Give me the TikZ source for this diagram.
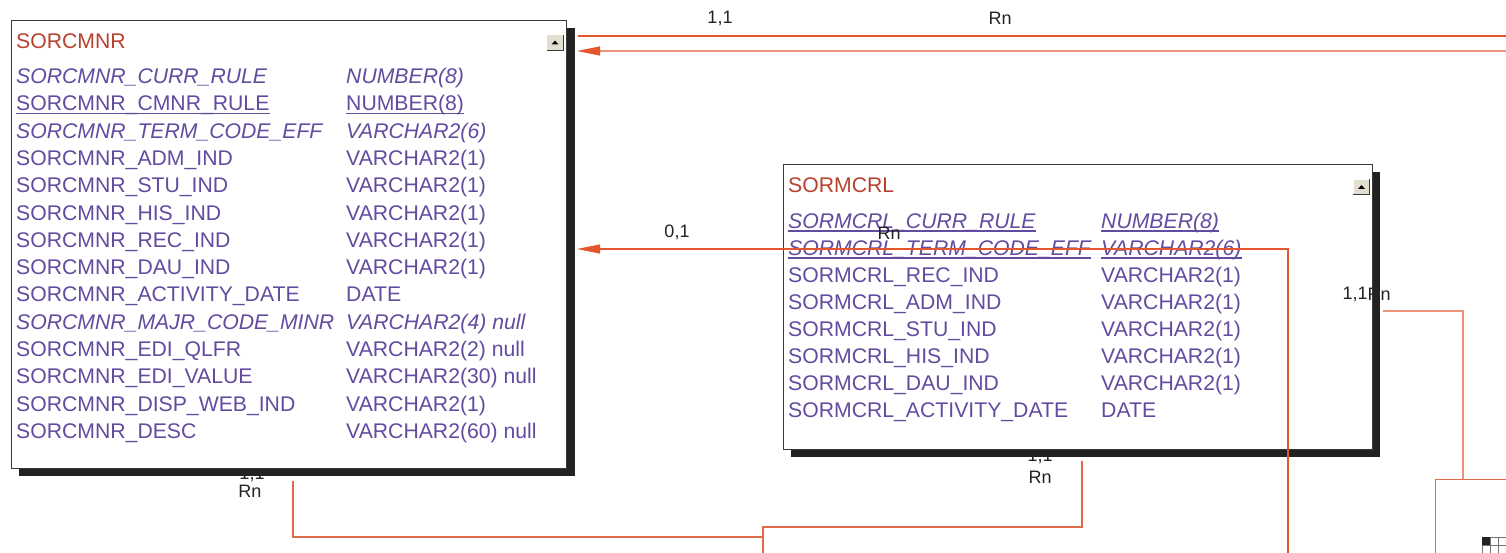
\documentclass[tikz,border=0pt]{standalone}
\usepackage{fontspec}
\setmainfont{Liberation Sans}
\usetikzlibrary{arrows.meta}
\definecolor{fk}{HTML}{E4572E}
\definecolor{fklight}{HTML}{EC9478}
\definecolor{fkmid}{HTML}{DE6C4C}
\definecolor{fld}{HTML}{634BA0}
\definecolor{ttlc}{HTML}{B9412D}
\definecolor{lblc}{HTML}{222222}
\definecolor{shd}{HTML}{222222}
\definecolor{bord}{HTML}{3A3A3A}
\definecolor{iconbg}{HTML}{E2DED2}
\begin{document}
\begin{tikzpicture}[x=1pt,y=-1pt,
  lbl/.style={font=\fontsize{18}{20}\selectfont, text=lblc, inner sep=0},
  fieldname/.style={anchor=base west, inner sep=0, font=\fontsize{21.2}{25}\selectfont, text=fld},
  pl/.style={},
  it/.style={font=\fontsize{21.2}{25}\selectfont\itshape},
  ttl/.style={fieldname, text=ttlc},
  tbl/.style={draw=bord, fill=white, line width=0.9pt, anchor=north west, inner sep=0},
  tshadow/.style={fill=shd, draw=none},
  relA/.style={draw=fk, line width=1.1pt},
  relB/.style={draw=fklight, line width=1.1pt},
  relC/.style={draw=fkmid, line width=1.1pt},
  ulined/.style={draw=fld, line width=1.3pt},
  tip/.style={-{Triangle[length=23pt,width=9pt,color=fk]}},
  icon/.style={fill=iconbg, draw=none, minimum width=16pt, minimum height=15pt, inner sep=0}
]
\useasboundingbox (0,0) rectangle (1506,553);
\fill[white] (0,0) rectangle (1506,553);

% labels partly under shadows
\node[lbl] (m5) at (252,474) {1,1};
\node[lbl] (m6) at (250,491) {Rn};
\node[lbl] (m7) at (1040,456) {1,1};
\node[lbl] (m8) at (1040,477) {Rn};

% connector end points
\coordinate (r1a) at (578,36);  \coordinate (r1b) at (1506,36);
\coordinate (r2a) at (1506,51); \coordinate (r2b) at (577,51);
\coordinate (r4a) at (293,481); \coordinate (r4b) at (293,537); \coordinate (r4c) at (763,537);
\coordinate (r5a) at (1082,461); \coordinate (r5b) at (1082,527); \coordinate (r5c) at (763,527); \coordinate (r5d) at (763,553);
\coordinate (r6a) at (1383,311); \coordinate (r6b) at (1463,311); \coordinate (r6c) at (1463,479);

\draw[relA] (r1a) -- (r1b);
\draw[relB, tip] (r2a) -- (r2b);
\draw[relC] (r4a) -- (r4b) -- (r4c);
\draw[relC] (r5a) -- (r5b) -- (r5c) -- (r5d);
\draw[relB] (r6a) -- (r6b) -- (r6c);

% partial third table
\node[tbl, draw=fkmid, minimum width=120pt, minimum height=100pt] (t3) at (1435,479) {};
\foreach \cx in {0,1,2} {
  \draw[draw=bord!70, line width=0.6pt] (1482+8*\cx,537) rectangle ++(8,8);
  \draw[draw=bord!70, line width=0.6pt] (1482+8*\cx,545) rectangle ++(8,8);
}
\fill[shd] (1482,537) rectangle (1490,545);

% ---------- table SORCMNR ----------
\fill[tshadow] (19,28) rectangle (575,476);
\node[tbl, minimum width=555pt, minimum height=448pt] (t1) at (11,20) {};
\node[ttl] (t1title) at (16,48.5) {SORCMNR};
\node[icon] (ic1) at (555,42.5) {};
\draw[white, line width=0.8pt] (ic1.south west) -- (ic1.north west) -- (ic1.north east);
\draw[bord, line width=1pt] (ic1.north east) -- (ic1.south east) -- (ic1.south west);
\fill[black] ([xshift=-3.5pt,yshift=-2pt]ic1.center) -- ++(7,0) -- ++(-3.5,-4) -- cycle;

\foreach [count=\i] \n/\t/\s in {
  SORCMNR\_CURR\_RULE/NUMBER(8)/it,
  SORCMNR\_CMNR\_RULE/NUMBER(8)/pl,
  SORCMNR\_TERM\_CODE\_EFF/VARCHAR2(6)/it,
  SORCMNR\_ADM\_IND/VARCHAR2(1)/pl,
  SORCMNR\_STU\_IND/VARCHAR2(1)/pl,
  SORCMNR\_HIS\_IND/VARCHAR2(1)/pl,
  SORCMNR\_REC\_IND/VARCHAR2(1)/pl,
  SORCMNR\_DAU\_IND/VARCHAR2(1)/pl,
  SORCMNR\_ACTIVITY\_DATE/DATE/pl,
  SORCMNR\_MAJR\_CODE\_MINR/VARCHAR2(4) null/it,
  SORCMNR\_EDI\_QLFR/VARCHAR2(2) null/pl,
  SORCMNR\_EDI\_VALUE/VARCHAR2(30) null/pl,
  SORCMNR\_DISP\_WEB\_IND/VARCHAR2(1)/pl,
  SORCMNR\_DESC/VARCHAR2(60) null/pl} {
  \node[fieldname, \s] (a\i) at (16, 83.5+27.31*\i-27.31) {\n};
  \node[fieldname, \s] (b\i) at (346, 83.5+27.31*\i-27.31) {\t};
}
\draw[ulined] ([yshift=-2.5pt]a2.base west) -- ([yshift=-2.5pt]a2.base east);
\draw[ulined] ([yshift=-2.5pt]b2.base west) -- ([yshift=-2.5pt]b2.base east);

% ---------- table SORMCRL ----------
\fill[tshadow] (791,172) rectangle (1380,457);
\node[tbl, minimum width=589pt, minimum height=285pt] (t2) at (783,164) {};
\node[ttl] (t2title) at (788,192.5) {SORMCRL};
\node[icon] (ic2) at (1361.5,187) {};
\draw[white, line width=0.8pt] (ic2.south west) -- (ic2.north west) -- (ic2.north east);
\draw[bord, line width=1pt] (ic2.north east) -- (ic2.south east) -- (ic2.south west);
\fill[black] ([xshift=-3.5pt,yshift=-2pt]ic2.center) -- ++(7,0) -- ++(-3.5,-4) -- cycle;

\foreach [count=\i] \n/\t/\s in {
  SORMCRL\_CURR\_RULE/NUMBER(8)/it,
  SORMCRL\_TERM\_CODE\_EFF/VARCHAR2(6)/it,
  SORMCRL\_REC\_IND/VARCHAR2(1)/pl,
  SORMCRL\_ADM\_IND/VARCHAR2(1)/pl,
  SORMCRL\_STU\_IND/VARCHAR2(1)/pl,
  SORMCRL\_HIS\_IND/VARCHAR2(1)/pl,
  SORMCRL\_DAU\_IND/VARCHAR2(1)/pl,
  SORMCRL\_ACTIVITY\_DATE/DATE/pl} {
  \node[fieldname, \s] (c\i) at (788, 228.5+27*\i-27) {\n};
  \node[fieldname, \s] (d\i) at (1101, 228.5+27*\i-27) {\t};
}
\foreach \k in {1,2} {
  \draw[ulined] ([yshift=-2.5pt]c\k.base west) -- ([yshift=-2.5pt]c\k.base east);
  \draw[ulined] ([yshift=-2.5pt]d\k.base west) -- ([yshift=-2.5pt]d\k.base east);
}

% labels at the right edge of SORMCRL, cut by its shadow
\node[lbl] (m9) at (1355,294) {1,1};
\node[lbl] (m10) at (1379,294) {Rn};
\fill[tshadow] (1372.5,172) rectangle (1380,457);

% ---------- connector crossing SORMCRL ----------
\coordinate (r3a) at (1288,553); \coordinate (r3b) at (1288,249); \coordinate (r3c) at (577,249);
\draw[relA, tip] (r3a) -- (r3b) -- (r3c);

% labels on top
\node[lbl] (m1) at (720,18) {1,1};
\node[lbl] (m2) at (1000,18) {Rn};
\node[lbl] (m3) at (677,232) {0,1};
\node[lbl] (m4) at (889,233) {Rn};
\end{tikzpicture}
\end{document}
